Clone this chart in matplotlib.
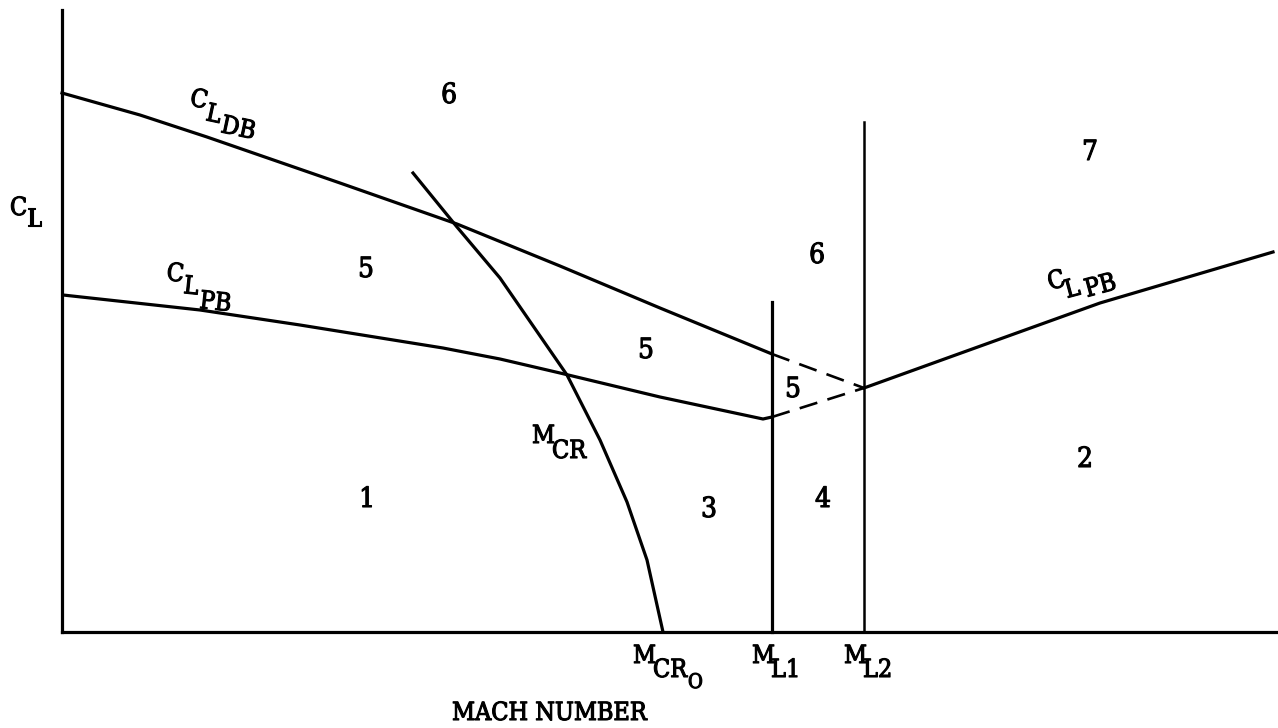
import matplotlib
matplotlib.use("Agg")
import matplotlib.pyplot as plt
import matplotlib.patheffects as pe

cldb_x = [62, 140, 207, 340, 457, 560, 660, 772]
cldb_y = [93, 115, 137, 183, 224, 266, 308, 354]

clpb_left_x = [63, 200, 300, 443, 500, 560, 660, 763, 772]
clpb_left_y = [295, 310, 325, 348, 359, 373, 397, 419, 417]

clpb_right_x = [864, 950, 1100, 1273]
clpb_right_y = [388, 357, 303, 252]

# dashed transition between M_L1 and M_L2
dash_upper_x = [772, 864]
dash_upper_y = [354, 388]
dash_lower_x = [772, 864]
dash_lower_y = [417, 388]

mcr_x = [413, 457, 500, 567, 600, 627, 647, 663]
mcr_y = [173, 227, 278, 375, 440, 502, 560, 632]

ml1_x, ml1_top = 772, 302
ml2_x, ml2_top = 864, 122
axis_x0, axis_y0, axis_top, axis_right = 62, 632, 10, 1278

# region numbers: (label, x centre, baseline)
regions = [("6", 449, 103), ("5", 366, 277), ("6", 817, 263), ("5", 646, 358),
           ("5", 793, 397), ("7", 1090, 160), ("1", 367, 507), ("3", 709, 517),
           ("4", 823, 507), ("2", 1085, 467)]

# labels with stepped subscripts: list of (text, x, baseline) pieces and rotation
labels = [
    ([("C", 10, 215), ("L", 27, 226)], 0),
    ([("C", 189, 105), ("L", 205, 120), ("DB", 220, 132)], -12),
    ([("C", 166, 280), ("L", 183, 293), ("PB", 199, 308)], -6),
    ([("C", 1050, 290), ("L", 1067, 298), ("PB", 1087, 297)], 15),
    ([("M", 532, 443), ("CR", 552, 458)], 0),
    ([("M", 633, 663), ("CR", 653, 677), ("O", 688, 688)], 0),
    ([("M", 752, 663), ("L1", 771, 677)], 0),
    ([("M", 844, 663), ("L2", 863, 677)], 0),
]
xlabel = ("MACH NUMBER", 452, 720)

font = "DejaVu Serif"
thick = [pe.withStroke(linewidth=0.8, foreground="black")]

fig = plt.figure(figsize=(12.78, 7.28), dpi=100)
ax = fig.add_axes([0, 0, 1, 1])
ax.set_xlim(0, 1278)
ax.set_ylim(728, 0)
ax.axis("off")

lw = 2.3
ax.plot([axis_x0, axis_x0], [axis_top, axis_y0], color="black", lw=lw)
ax.plot([axis_x0, axis_right], [axis_y0, axis_y0], color="black", lw=lw)

ax.plot(cldb_x, cldb_y, color="black", lw=lw)
ax.plot(clpb_left_x, clpb_left_y, color="black", lw=lw)
ax.plot(clpb_right_x, clpb_right_y, color="black", lw=lw)
ax.plot(mcr_x, mcr_y, color="black", lw=lw)
ax.plot([ml1_x, ml1_x], [ml1_top, axis_y0], color="black", lw=lw)
ax.plot([ml2_x, ml2_x], [ml2_top, axis_y0], color="black", lw=1.8)
ax.plot(dash_upper_x, dash_upper_y, color="black", lw=1.9, dashes=(7, 4))
ax.plot(dash_lower_x, dash_lower_y, color="black", lw=1.9, dashes=(7, 4))

for s, x, y in regions:
    ax.text(x, y, s, fontsize=20, family=font, fontstretch="condensed",
            ha="center", va="baseline", path_effects=thick)

for pieces, rot in labels:
    for s, x, y in pieces:
        size = 14.5 if s == "O" else 18
        ax.text(x, y, s, fontsize=size, family=font, fontstretch="condensed",
                ha="left", va="baseline", rotation=rot, rotation_mode="anchor",
                path_effects=thick)

ax.text(xlabel[1], xlabel[2], xlabel[0], fontsize=18, family=font,
        fontstretch="condensed", ha="left", va="baseline", path_effects=thick)

fig.savefig("out.png", dpi=100, facecolor="white")
